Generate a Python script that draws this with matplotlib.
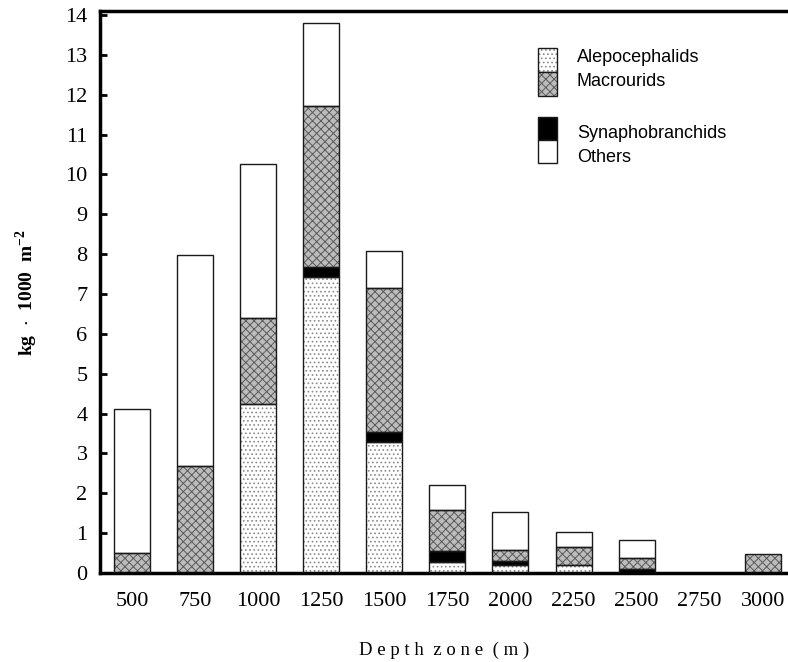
import matplotlib
matplotlib.use("Agg")
import matplotlib.pyplot as plt
from matplotlib.patches import Rectangle
import numpy as np

depths = ["500", "750", "1000", "1250", "1500", "1750", "2000", "2250", "2500", "2750", "3000"]
alepocephalids = [0, 0, 4.25, 7.42, 3.28, 0.28, 0.20, 0.19, 0, 0, 0]
synaphobranchids = [0, 0, 0, 0.25, 0.27, 0.26, 0.11, 0, 0.10, 0, 0]
macrourids = [0.50, 2.68, 2.14, 4.05, 3.59, 1.04, 0.27, 0.46, 0.28, 0, 0.47]
others = [3.61, 5.30, 3.87, 2.08, 0.94, 0.64, 0.94, 0.38, 0.45, 0, 0]
yticks = list(range(0, 15))

W, H = 788, 662
plt.rcParams['mathtext.fontset'] = 'stix'
plt.rcParams['hatch.linewidth'] = 0.7
fig = plt.figure(figsize=(W / 100, H / 100), dpi=100)
ax = fig.add_axes([100 / W, 89 / H, 1 - 100 / W, (573 - 11) / H])

styles = [
    dict(face="white", hatch="....", hcol="#8a8a8a"),   # Alepocephalids
    dict(face="black", hatch=None, hcol="black"),       # Synaphobranchids
    dict(face="#bcbcbc", hatch="xxxx", hcol="#5a5a5a"),  # Macrourids
    dict(face="white", hatch=None, hcol="white"),       # Others
]
series = [alepocephalids, synaphobranchids, macrourids, others]
x = np.arange(len(depths))
width = 0.57
bottom = np.zeros(len(depths))
for vals, st in zip(series, styles):
    vals = np.array(vals, dtype=float)
    for i in range(len(depths)):
        if vals[i] <= 0:
            continue
        ax.bar(x[i], vals[i], width, bottom=bottom[i], color=st["face"],
               hatch=st["hatch"], edgecolor=st["hcol"], linewidth=0, zorder=2)
        ax.bar(x[i], vals[i], width, bottom=bottom[i], fill=False,
               edgecolor="#1a1a1a", linewidth=1.0, zorder=3)
    bottom += vals

ax.set_xlim(-0.507, 10.40)
ax.set_ylim(0, 14.1)
ax.set_yticks(yticks)
ax.set_yticklabels([str(t) for t in yticks], fontfamily="Liberation Serif", fontsize=16)
ax.set_xticks(x)
ax.set_xticklabels(depths, fontfamily="Liberation Serif", fontsize=16)
ax.tick_params(axis="y", direction="in", length=5, width=2, pad=9)
ax.tick_params(axis="x", length=0, pad=14)
for s in ["left", "bottom", "top"]:
    ax.spines[s].set_linewidth(2.5)
ax.spines["right"].set_visible(False)

ax.set_ylabel(r"kg  $\cdot$  1000  m$^{\mathregular{-2}}$", fontfamily="Liberation Serif",
              fontsize=14, fontweight="bold", labelpad=18)
ax.set_xlabel("D e p t h  z o n e  ( m )", fontfamily="Liberation Serif", fontsize=13.5, labelpad=22)

# legend drawn manually
def fx(px):
    return px / W

def fy(py):
    return 1 - py / H

leg = [
    (styles[0], 48, 72), (styles[2], 72, 96),
    (styles[1], 117, 140), (styles[3], 140, 163),
]
for st, y0, y1 in leg:
    fig.patches.append(Rectangle((fx(538), fy(y1)), fx(557) - fx(538), fy(y0) - fy(y1),
                                 transform=fig.transFigure, facecolor=st["face"],
                                 hatch=st["hatch"], edgecolor=st["hcol"], linewidth=0))
    fig.patches.append(Rectangle((fx(538), fy(y1)), fx(557) - fx(538), fy(y0) - fy(y1),
                                 transform=fig.transFigure, fill=False,
                                 edgecolor="#1a1a1a", linewidth=1.0))
labels = ["Alepocephalids", "Macrourids", "Synaphobranchids", "Others"]
label_y = [58, 82, 133, 157]
for lab, yy in zip(labels, label_y):
    fig.text(fx(577), fy(yy), lab, fontfamily="Liberation Sans", fontsize=13, va="center", ha="left")

fig.savefig("out.png", dpi=100)
